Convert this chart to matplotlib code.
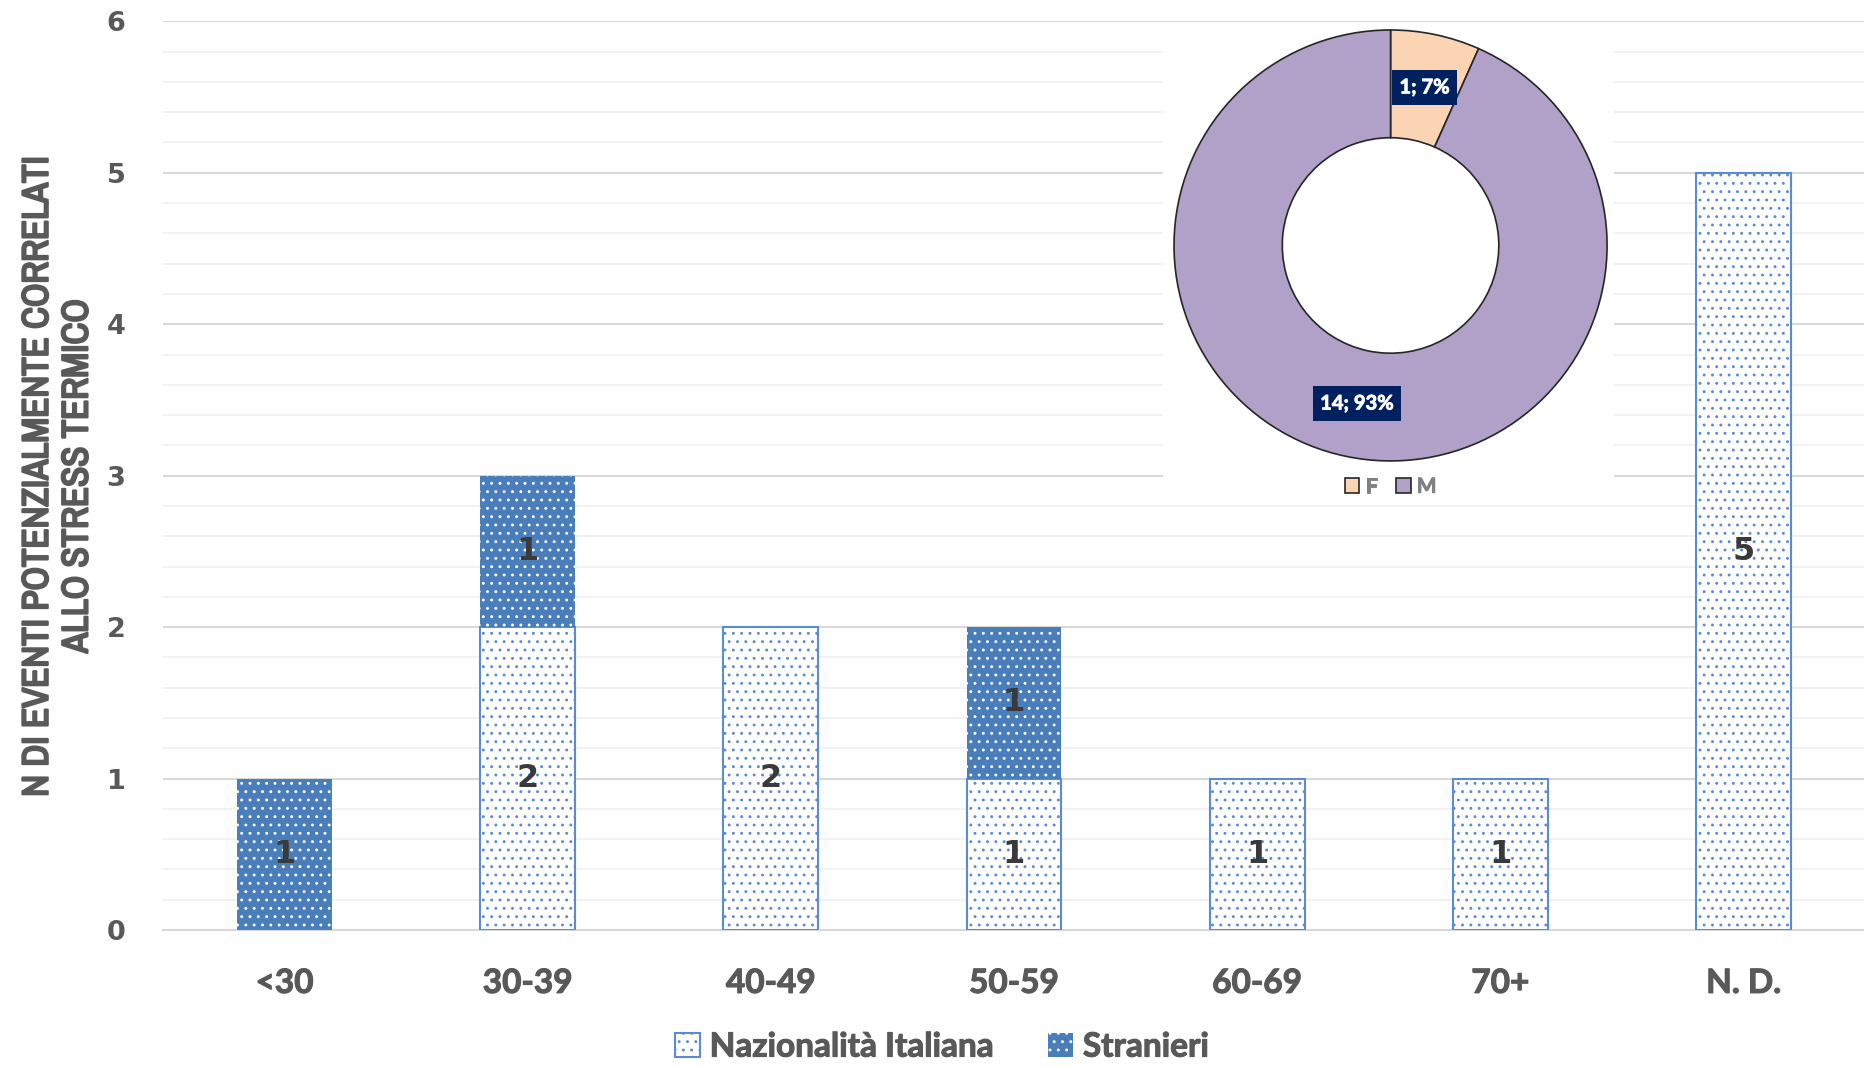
import matplotlib
matplotlib.use("Agg")
import matplotlib.pyplot as plt
from matplotlib import font_manager
import matplotlib.patheffects as pe
from matplotlib.patches import Rectangle
import numpy as np

# fasce d'età e conteggi per nazionalità
fasce = ['<30', '30-39', '40-49', '50-59', '60-69', '70+', 'N. D.']
italiani = [0, 2, 2, 1, 1, 1, 5]
stranieri = [1, 1, 0, 1, 0, 0, 0]

# ripartizione per sesso (grafico ad anello)
sessi = ['F', 'M']
n_sesso = [1, 14]

GRIGIO = '#595959'
BLU = '#4a7ebb'
BLU_BORDO = '#5b8bd0'

plt.rcParams['hatch.linewidth'] = 0.9

# cerca un font stretto per il titolo dell'asse y
stretti = sorted({f.name for f in font_manager.fontManager.ttflist
                  if 'narrow' in f.name.lower() or 'condensed' in f.name.lower()
                  or 'condensed' in str(f.stretch).lower()})
if stretti:
    font_ylab, size_ylab = [stretti[0], 'DejaVu Sans'], 26.5
else:
    font_ylab, size_ylab = ['Roboto', 'DejaVu Sans'], 21

fig = plt.figure(figsize=(18.65, 10.67), dpi=100)
ax = fig.add_axes([0.0874, 0.1284, 0.9126, 0.8516])

x = np.arange(len(fasce))
ita = np.array(italiani)
stra = np.array(stranieri)
w = 0.39

m = ita > 0
b_ita = ax.bar(x[m], ita[m], width=w, facecolor='white', edgecolor=BLU_BORDO,
               hatch='..', linewidth=1.5, zorder=3, label='Nazionalità Italiana')
m2 = stra > 0
b_stra = ax.bar(x[m2], stra[m2], width=w, bottom=ita[m2], facecolor=BLU,
                edgecolor='white', hatch='..', linewidth=0, zorder=3, label='Stranieri')

# etichette dei valori al centro dei segmenti
for i in range(len(fasce)):
    if ita[i] > 0:
        ax.text(x[i], ita[i] / 2, str(ita[i]), ha='center', va='center',
                fontsize=23, fontweight='bold', color='#3a3a3a', zorder=5)
    if stra[i] > 0:
        ax.text(x[i], ita[i] + stra[i] / 2, str(stra[i]), ha='center', va='center',
                fontsize=23, fontweight='bold', color='#3a3a3a', zorder=5)

ax.set_xlim(-0.5, 6.5)
ax.set_ylim(0, 6)
ax.set_yticks(range(0, 7))
ax.set_yticks(np.arange(0, 6.01, 0.2), minor=True)
ax.grid(axis='y', which='major', color='#d9d9d9', linewidth=1.5, zorder=0)
ax.grid(axis='y', which='minor', color='#f0f0f0', linewidth=1.2, zorder=0)
for s in ['top', 'right', 'left']:
    ax.spines[s].set_visible(False)
ax.spines['bottom'].set_color('#d9d9d9')
ax.spines['bottom'].set_linewidth(1.5)
ax.tick_params(axis='both', which='both', length=0)
ax.tick_params(axis='y', pad=27)
ax.tick_params(axis='x', pad=28)
ax.set_xticks(x)
ax.set_xticklabels(fasce, fontsize=24, fontweight='bold', color=GRIGIO, family='Lato')
for t in ax.get_xticklabels():
    t.set_path_effects([pe.withStroke(linewidth=0.8, foreground=GRIGIO)])
for t in ax.get_yticklabels():
    t.set_fontsize(19.5)
    t.set_fontweight('bold')
    t.set_color(GRIGIO)

ylab = fig.text(0.0306, 0.554, 'N DI EVENTI POTENZIALMENTE CORRELATI\nALLO STRESS TERMICO',
                rotation=90, ha='center', va='center', fontsize=size_ylab, fontweight='bold',
                color=GRIGIO, family=font_ylab, linespacing=1.25)
ylab.set_path_effects([pe.withStroke(linewidth=1.6, foreground=GRIGIO)])

leg = fig.legend(handles=[b_ita[0], b_stra[0]], labels=['Nazionalità Italiana', 'Stranieri'],
                 loc='center', bbox_to_anchor=(0.505, 0.0187), ncol=2, frameon=False,
                 prop={'family': 'Lato', 'weight': 'bold', 'size': 24},
                 handlelength=0.75, handleheight=0.75, handletextpad=0.3, columnspacing=1.6)
for t in leg.get_texts():
    t.set_color(GRIGIO)
    t.set_path_effects([pe.withStroke(linewidth=0.8, foreground=GRIGIO)])

# area bianca del riquadro con l'anello
fig.add_artist(Rectangle((0.6236, 0.5408), 0.2418, 0.4358, transform=fig.transFigure,
                         facecolor='white', edgecolor='none', zorder=1))

ax2 = fig.add_axes([0.6295, 0.5680, 0.2322, 0.4039], zorder=2)
tot = sum(n_sesso)
wedges, _, autotexts = ax2.pie(
    n_sesso, colors=['#fbd4b4', '#b1a0c7'], startangle=90, counterclock=False,
    radius=1, pctdistance=0.75,
    autopct=lambda p: '{:d}; {:.0f}%'.format(int(round(p * tot / 100)), p),
    wedgeprops=dict(width=0.5, edgecolor='#262626', linewidth=1.2))
for t in autotexts:
    t.set_color('white')
    t.set_fontsize(14.5)
    t.set_fontweight('bold')
    t.set_family('Lato')
    t.set_bbox(dict(facecolor='#002060', edgecolor='none', boxstyle='square,pad=0.38'))
    t.set_path_effects([pe.withStroke(linewidth=0.6, foreground='white')])
ax2.set_xlim(-1, 1)
ax2.set_ylim(-1, 1)
ax2.set_aspect('auto')
ax2.set_xticks([])
ax2.set_yticks([])
ax2.patch.set_facecolor('white')
for s in ax2.spines.values():
    s.set_visible(True)
    s.set_color('#262626')
    s.set_linewidth(1.2)

leg2 = ax2.legend(wedges, sessi, loc='center', bbox_to_anchor=(0.5, -0.06), ncol=2,
                  frameon=False, prop={'family': 'Lato', 'weight': 'bold', 'size': 15},
                  handlelength=0.7, handleheight=0.7, handletextpad=0.3,
                  columnspacing=0.9)
for t in leg2.get_texts():
    t.set_color('#808080')
    t.set_path_effects([pe.withStroke(linewidth=0.6, foreground='#808080')])

fig.savefig('out.png', dpi=100)
